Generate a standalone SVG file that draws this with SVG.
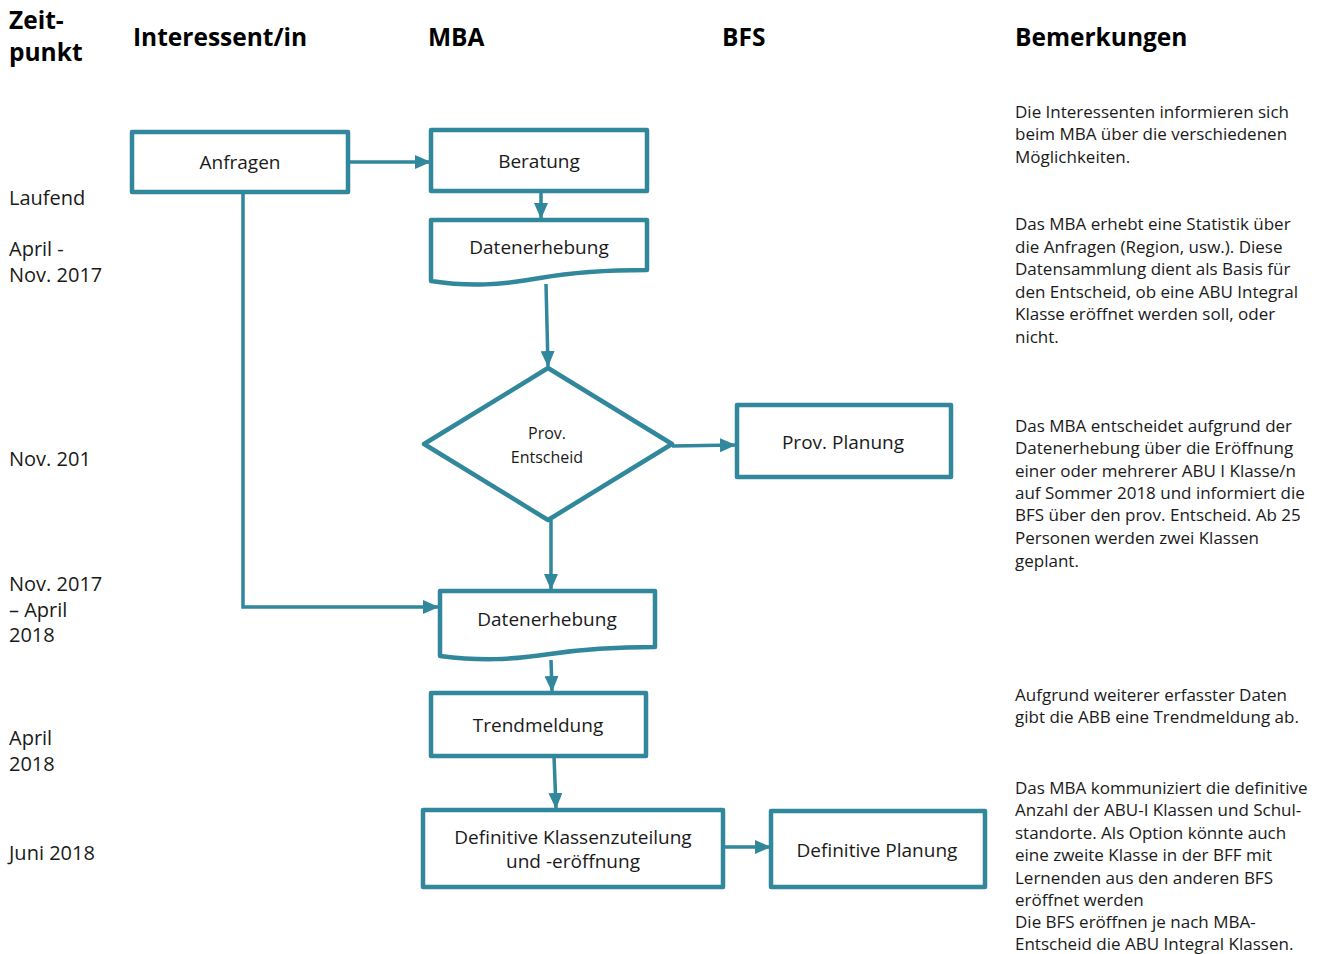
<svg xmlns="http://www.w3.org/2000/svg" width="1327" height="954" viewBox="0 0 1327 954">
<style>
text{font-family:"Open Sans","Noto Sans","Liberation Sans",sans-serif;fill:#1a1a1a}
.h{font-weight:bold;font-size:24.5px;fill:#000}
.t{font-size:20px}
.r{font-size:17px}
.n{font-size:19px;text-anchor:middle}
.d{font-size:16px;text-anchor:middle}
.box{fill:#fff;stroke:#31879c;stroke-width:4.5;stroke-linejoin:round}
.c{fill:none;stroke:#31879c;stroke-width:3.5}
</style>
<defs>
<marker id="ah" markerWidth="16" markerHeight="14" refX="15" refY="7" orient="auto" markerUnits="userSpaceOnUse">
<path d="M0,0 L16,7 L0,14 z" fill="#31879c"/>
</marker>
</defs>
<rect width="1327" height="954" fill="#fff"/>
<g id="headers">
<text class="h" x="9" y="29">Zeit-</text>
<text class="h" x="9" y="61">punkt</text>
<text class="h" x="133" y="46">Interessent/in</text>
<text class="h" x="428" y="46">MBA</text>
<text class="h" x="722" y="46">BFS</text>
<text class="h" x="1015" y="46">Bemerkungen</text>
</g>
<g id="times">
<text class="t" x="9" y="205">Laufend</text>
<text class="t" x="9" y="256">April -</text>
<text class="t" x="9" y="282">Nov. 2017</text>
<text class="t" x="9" y="466">Nov. 201</text>
<text class="t" x="9" y="591">Nov. 2017</text>
<text class="t" x="9" y="617">– April</text>
<text class="t" x="9" y="642">2018</text>
<text class="t" x="9" y="745">April</text>
<text class="t" x="9" y="771">2018</text>
<text class="t" x="9" y="860">Juni 2018</text>
</g>
<g id="remarks">
<text class="r" x="1015" y="118">Die Interessenten informieren sich</text>
<text class="r" x="1015" y="140">beim MBA über die verschiedenen</text>
<text class="r" x="1015" y="163">Möglichkeiten.</text>
<text class="r" x="1015" y="230">Das MBA erhebt eine Statistik über</text>
<text class="r" x="1015" y="253">die Anfragen (Region, usw.). Diese</text>
<text class="r" x="1015" y="275">Datensammlung dient als Basis für</text>
<text class="r" x="1015" y="298">den Entscheid, ob eine ABU Integral</text>
<text class="r" x="1015" y="320">Klasse eröffnet werden soll, oder</text>
<text class="r" x="1015" y="343">nicht.</text>
<text class="r" x="1015" y="432">Das MBA entscheidet aufgrund der</text>
<text class="r" x="1015" y="454">Datenerhebung über die Eröffnung</text>
<text class="r" x="1015" y="477">einer oder mehrerer ABU I Klasse/n</text>
<text class="r" x="1015" y="499">auf Sommer 2018 und informiert die</text>
<text class="r" x="1015" y="521">BFS über den prov. Entscheid. Ab 25</text>
<text class="r" x="1015" y="544">Personen werden zwei Klassen</text>
<text class="r" x="1015" y="567">geplant.</text>
<text class="r" x="1015" y="701">Aufgrund weiterer erfasster Daten</text>
<text class="r" x="1015" y="723">gibt die ABB eine Trendmeldung ab.</text>
<text class="r" x="1015" y="794">Das MBA kommuniziert die definitive</text>
<text class="r" x="1015" y="816">Anzahl der ABU-I Klassen und Schul-</text>
<text class="r" x="1015" y="839">standorte. Als Option könnte auch</text>
<text class="r" x="1015" y="861">eine zweite Klasse in der BFF mit</text>
<text class="r" x="1015" y="884">Lernenden aus den anderen BFS</text>
<text class="r" x="1015" y="906">eröffnet werden</text>
<text class="r" x="1015" y="928">Die BFS eröffnen je nach MBA-</text>
<text class="r" x="1015" y="950">Entscheid die ABU Integral Klassen.</text>
</g>
<g id="connectors">
<path class="c" d="M348,162 L430,162" marker-end="url(#ah)"/>
<path class="c" d="M541,191 L541,218" marker-end="url(#ah)"/>
<path class="c" d="M546,284 L548,366" marker-end="url(#ah)"/>
<path class="c" d="M672,446 L735,445" marker-end="url(#ah)"/>
<path class="c" d="M551,520 L551,589" marker-end="url(#ah)"/>
<path class="c" d="M243,192 L243,607 L438,607" marker-end="url(#ah)"/>
<path class="c" d="M551,660 L552,691" marker-end="url(#ah)"/>
<path class="c" d="M554,756 L556,808" marker-end="url(#ah)"/>
<path class="c" d="M723,847 L770,847" marker-end="url(#ah)"/>
</g>
<g id="anfragen">
<rect class="box" x="132" y="132" width="216" height="60"/>
<text class="n" x="240" y="169">Anfragen</text>
</g>
<g id="beratung">
<rect class="box" x="431" y="130" width="216" height="61"/>
<text class="n" x="539" y="168">Beratung</text>
</g>
<g id="datenerhebung1">
<path class="box" d="M431,220 L647,220 L647,270 C620,270 580,271 540,278 C500,285 470,287 431,281 Z"/>
<text class="n" x="539" y="254">Datenerhebung</text>
</g>
<g id="entscheid">
<path class="box" d="M548,368 L672,444 L548,520 L424,444 Z"/>
<text class="d" x="547" y="439">Prov.</text>
<text class="d" x="547" y="463">Entscheid</text>
</g>
<g id="provplanung">
<rect class="box" x="737" y="405" width="214" height="72"/>
<text class="n" x="843" y="449">Prov. Planung</text>
</g>
<g id="datenerhebung2">
<path class="box" d="M440,591 L655,591 L655,647 C628,647 590,648 550,654 C510,660 480,661 440,656 Z"/>
<text class="n" x="547" y="626">Datenerhebung</text>
</g>
<g id="trendmeldung">
<rect class="box" x="431" y="693" width="215" height="63"/>
<text class="n" x="538" y="732">Trendmeldung</text>
</g>
<g id="definitiveklassen">
<rect class="box" x="423" y="810" width="300" height="77"/>
<text class="n" x="573" y="844">Definitive Klassenzuteilung</text>
<text class="n" x="573" y="868">und -eröffnung</text>
</g>
<g id="definitiveplanung">
<rect class="box" x="771" y="811" width="214" height="76"/>
<text class="n" x="877" y="857">Definitive Planung</text>
</g>
</svg>
